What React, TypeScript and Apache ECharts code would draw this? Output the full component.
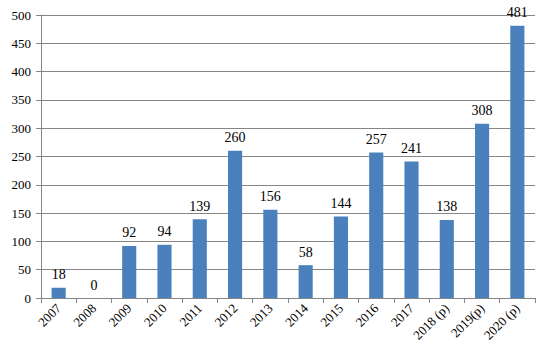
import React, { useEffect, useRef } from "react";
import * as echarts from "echarts";

const categories = ["2007", "2008", "2009", "2010", "2011", "2012", "2013", "2014", "2015", "2016", "2017", "2018 (p)", "2019(p)", "2020 (p)"];
const values = [18, 0, 92, 94, 139, 260, 156, 58, 144, 257, 241, 138, 308, 481];
const yTicks = { min: 0, max: 500, interval: 50 };

const FONT = "Times New Roman, Liberation Serif, Times, serif";

export default function App() {
  const ref = useRef<HTMLDivElement>(null);
  useEffect(() => {
    if (!ref.current) return;
    const chart = echarts.init(ref.current, undefined, { renderer: "svg" });
    chart.setOption({
      animation: false,
      textStyle: { fontFamily: FONT },
      grid: { left: 41, right: 16, top: 15, bottom: 63 },
      xAxis: {
        type: "category",
        data: categories,
        boundaryGap: true,
        axisLine: { show: true, lineStyle: { color: "#868686", width: 1 } },
        axisTick: { show: true, length: 5, alignWithLabel: false, lineStyle: { color: "#868686" } },
        axisLabel: { rotate: 45, color: "#000", fontFamily: FONT, fontSize: 13, margin: 8, interval: 0 },
      },
      yAxis: {
        type: "value",
        min: yTicks.min,
        max: yTicks.max,
        interval: yTicks.interval,
        axisLine: { show: true, lineStyle: { color: "#868686", width: 1 } },
        axisTick: { show: true, length: 5, lineStyle: { color: "#868686" } },
        axisLabel: { color: "#000", fontFamily: FONT, fontSize: 13, margin: 10 },
        splitLine: { show: true, lineStyle: { color: "#868686", width: 1 } },
      },
      series: [
        {
          type: "bar",
          data: values,
          barWidth: "40%",
          itemStyle: { color: "#4A81BD" },
          label: { show: true, position: "top", distance: 6, color: "#000", fontFamily: FONT, fontSize: 14 },
        },
      ],
    });
    return () => chart.dispose();
  }, []);
  return <div ref={ref} style={{ width: 551, height: 361, position: "absolute", left: 0, top: 0, background: "#fff" }} />;
}
